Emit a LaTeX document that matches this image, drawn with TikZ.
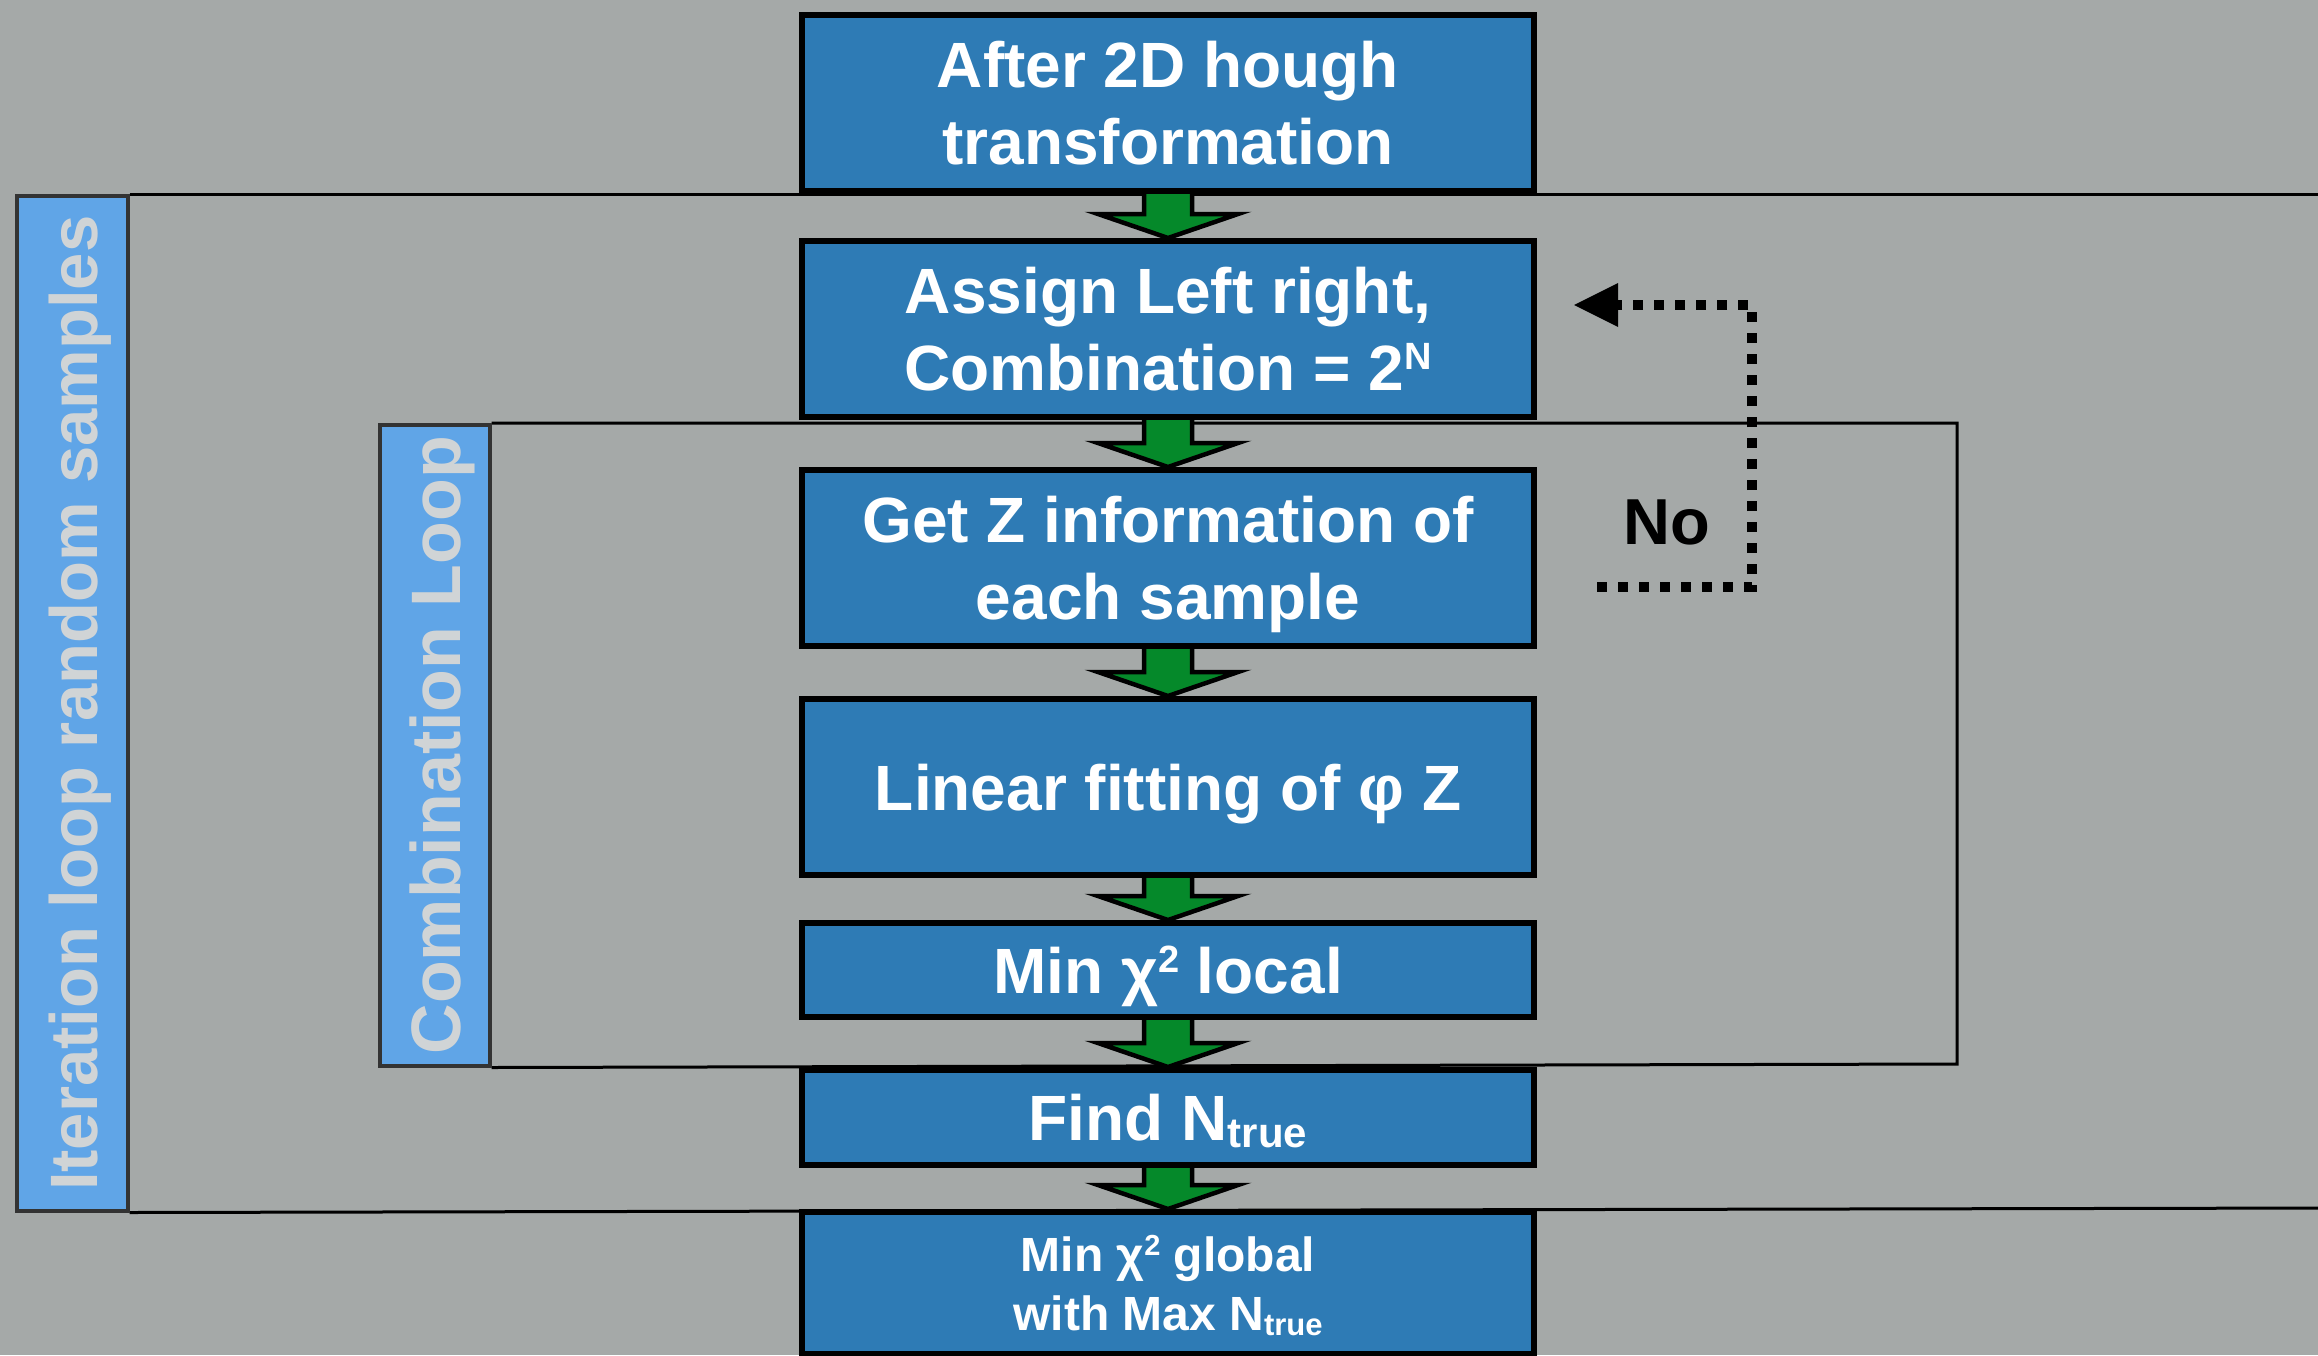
\documentclass[tikz,border=0pt]{standalone}
\usepackage{fontspec}
\setmainfont{Liberation Sans}
\usetikzlibrary{calc}
\definecolor{bg}{HTML}{A5A9A8}
\definecolor{boxblue}{HTML}{2E7BB5}
\definecolor{barblue}{HTML}{60A5E7}
\definecolor{bartext}{HTML}{D0D4D6}
\definecolor{agreen}{HTML}{05892A}
\pgfdeclarelayer{bgl}
\pgfdeclarelayer{arr}
\pgfsetlayers{bgl,arr,main}
\newcommand\sups[3]{\raisebox{#1}{\fontsize{#2}{#2}\selectfont #3}}
\newcommand\subtx[2]{\raisebox{-0.1em}{\fontsize{#1}{#1}\selectfont #2}}
\newcommand\garr[2]{\draw[garrow] ($(#1.south)+(-24,0)$) -- ($(#2.north)+(-24,-24)$) -- ($(#2.north)+(-70,-24)$) -- (#2.north) -- ($(#2.north)+(70,-24)$) -- ($(#2.north)+(24,-24)$) -- ($(#1.south)+(24,0)$);}
\begin{document}
\begin{tikzpicture}[x=1pt,y=-1pt,
 box/.style={draw=black, line width=6pt, fill=boxblue, minimum width=732pt, text=white, font=\bfseries\fontsize{64}{77}\selectfont, align=center, inner sep=0pt, text depth=0pt},
 bar/.style={draw=black!80, line width=3.5pt, fill=barblue, inner sep=0pt},
 bartxt/.style={text=bartext, rotate=90, inner sep=0pt},
 frame/.style={draw=black, line width=3pt},
 garrow/.style={draw=black, line width=4.5pt, fill=agreen, line join=miter},
 loopline/.style={draw=black, line width=10pt, dash pattern=on 10pt off 11pt},
]
\useasboundingbox (0,0) rectangle (2318,1355);
\begin{pgfonlayer}{bgl}
\fill[bg] (0,0) rectangle (2318,1355);
\end{pgfonlayer}

% boxes
\node[box, minimum height=176pt] (b1) at (1168,103) {After 2D hough\\transformation};
\node[box, minimum height=176pt] (b2) at (1168,329) {Assign Left right,\\Combination = 2\sups{0.33em}{38}{N}};
\node[box, minimum height=176pt] (b3) at (1168,558) {Get Z information of\\each sample};
\node[box, minimum height=176pt] (b4) at (1168,787) {Linear fitting of φ Z};
\node[box, minimum height=94pt] (b5) at (1168,970) {Min χ\sups{0.33em}{38}{2} local};
\node[box, minimum height=95pt] (b6) at (1168,1117.5) {Find N\subtx{42}{true}};
\node[box, minimum height=142pt, font=\bfseries\fontsize{48}{59}\selectfont] (b7) at (1168,1283) {Min χ\sups{0.33em}{29}{2} global\\with Max N\subtx{31}{true}};

% loop bars
\node[bar, minimum width=111pt, minimum height=1015pt, anchor=north west] (bar1) at (15,194) {};
\node[bartxt, font=\bfseries\fontsize{67}{80}\selectfont] (t1) at ($(bar1.center)+(8,0)$) {Iteration loop random samples};
\node[bar, minimum width=110pt, minimum height=641pt, anchor=north west] (bar2) at (378,423) {};
\node[bartxt, font=\bfseries\fontsize{70}{80}\selectfont] (t2) at ($(bar2.center)+(8,0)$) {Combination Loop};

\begin{pgfonlayer}{bgl}
\coordinate (o1) at (2330,194);
\coordinate (o2) at (2330,1208);
\draw[frame] (bar1.north east) -- (o1);
\draw[frame] (bar1.south east) -- (o2);
\coordinate (i1) at (1957,423);
\coordinate (i2) at (1957,1064);
\draw[frame] (bar2.north east) -- (i1) -- (i2) -- (bar2.south east);
\end{pgfonlayer}

\begin{pgfonlayer}{arr}
\garr{b1}{b2}
\garr{b2}{b3}
\garr{b3}{b4}
\garr{b4}{b5}
\garr{b5}{b6}
\garr{b6}{b7}
\end{pgfonlayer}

% feedback loop
\node[font=\bfseries\fontsize{65}{65}\selectfont] (no) at (1667,522) {No};
\coordinate (d1) at (1597,587);
\coordinate (d2) at (1752,587);
\coordinate (d3) at (1752,305);
\coordinate (tip) at ($(b2.east)+(37,-24)$);
\coordinate (d4) at ($(tip)+(44,0)$);
\draw[loopline] (d1) -- (d2) -- (d3) -- (d4);
\fill[black] (tip) -- ($(d4)+(0,-22)$) -- ($(d4)+(0,22)$) -- cycle;
\end{tikzpicture}
\end{document}
